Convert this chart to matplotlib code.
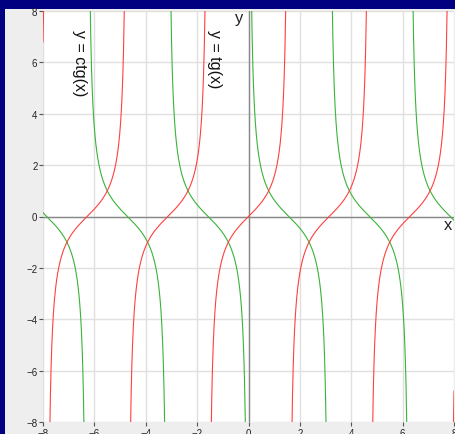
import numpy as np
import matplotlib.pyplot as plt
from matplotlib.patches import Rectangle

# domain and ticks
x_min, x_max = -8, 8
y_min, y_max = -8, 8
ticks = [-8, -6, -4, -2, 0, 2, 4, 6, 8]
labels = {"ctg": "y = ctg(x)", "tg": "y = tg(x)"}

x = np.linspace(x_min, x_max, 40001)
tg = np.tan(x)
ctg = np.cos(x) / np.sin(x)
# break lines at the asymptotes
tg[np.abs(tg) > 30] = np.nan
ctg[np.abs(ctg) > 30] = np.nan

fig = plt.figure(figsize=(4.55, 4.35), dpi=100, facecolor="#000080")
# light gray panel inside the navy frame
fig.patches.append(Rectangle((5 / 455, 0), 1, 425 / 435, transform=fig.transFigure,
                             facecolor="#eeeeee", edgecolor="none", zorder=-10))

ax = fig.add_axes([43 / 455, 12 / 435, 411 / 455, 411 / 435])
ax.set_facecolor("white")
ax.set_xlim(x_min, x_max)
ax.set_ylim(y_min, y_max)
ax.set_xticks(ticks)
ax.set_yticks(ticks)
ax.grid(True, color="#e0e0e0", linewidth=1)
ax.set_axisbelow(True)
for s in ax.spines.values():
    s.set_visible(False)
ax.tick_params(length=3, width=0.8, color="#555555", labelsize=7, pad=1, labelcolor="#222222")
for lab in ax.get_xticklabels() + ax.get_yticklabels():
    lab.set_family("Liberation Sans")

ax.axhline(0, color="#888888", linewidth=1)
ax.axvline(0, color="#888888", linewidth=1)

ax.plot(x, ctg, color="#38b438", linewidth=0.8)
ax.plot(x, tg, color="#ff4040", linewidth=0.8)

ax.text(-6.56, 6.0, labels["ctg"], rotation=270, ha="center", va="center",
        fontsize=11.5, family="Liberation Sans", color="#111111")
ax.text(-1.32, 6.17, labels["tg"], rotation=270, ha="center", va="center",
        fontsize=11.5, family="Liberation Sans", color="#111111")
ax.text(-0.35, 7.75, "y", ha="center", va="center", fontsize=12,
        family="Liberation Sans", color="#222222")
ax.text(7.75, -0.3, "x", ha="center", va="center", fontsize=12,
        family="Liberation Sans", color="#222222")

fig.savefig("out.png", dpi=100, facecolor=fig.get_facecolor())
